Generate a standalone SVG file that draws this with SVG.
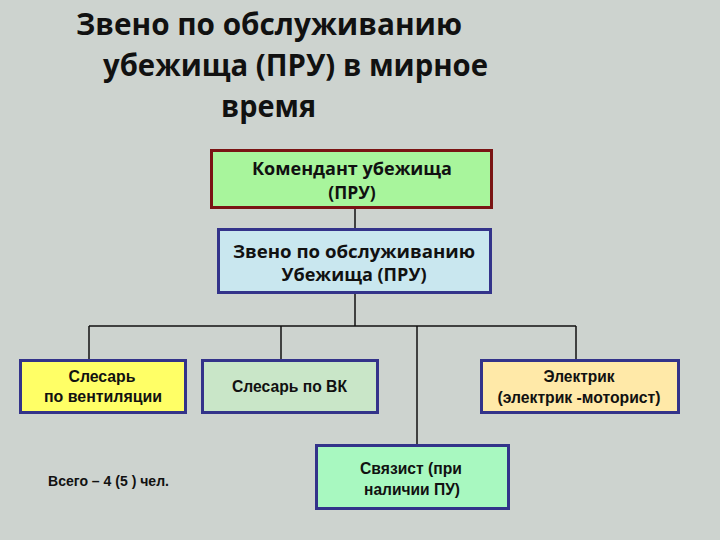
<svg xmlns="http://www.w3.org/2000/svg" width="720" height="540" viewBox="0 0 720 540">
<style>
.t{font-family:"Open Sans","DejaVu Sans",sans-serif;font-weight:bold;fill:#111}
.n{font-family:"Liberation Sans",Arial,sans-serif;font-weight:bold;fill:#111;font-size:16px;text-anchor:middle}
.h{font-family:"Open Sans","DejaVu Sans",sans-serif;font-weight:bold;fill:#111;font-size:17.5px;text-anchor:middle}
.box{stroke:#33338a;stroke-width:3}
.c{stroke:#111;stroke-width:1.5;fill:none}
</style>
<rect width="720" height="540" fill="#cdd3cf"/>
<g id="title" class="t" font-size="29.5">
<text x="76" y="35" textLength="386" lengthAdjust="spacingAndGlyphs">Звено по обслуживанию</text>
<text x="103" y="76" textLength="385" lengthAdjust="spacingAndGlyphs">убежища (ПРУ) в мирное</text>
<text x="221" y="117" textLength="95" lengthAdjust="spacingAndGlyphs">время</text>
</g>
<g id="connectors" class="c">
<line x1="355" y1="208" x2="355" y2="229"/>
<line x1="355" y1="292" x2="355" y2="326"/>
<line x1="89" y1="326" x2="576" y2="326"/>
<line x1="89" y1="326" x2="89" y2="360"/>
<line x1="281" y1="326" x2="281" y2="360"/>
<line x1="417" y1="326" x2="417" y2="445"/>
<line x1="576" y1="326" x2="576" y2="360"/>
</g>
<g id="commandant">
<rect x="211.5" y="150.5" width="280" height="57" fill="#a8f59c" stroke="#7a1414" stroke-width="3"/>
<text class="h" x="352" y="175" textLength="200" lengthAdjust="spacingAndGlyphs">Комендант убежища</text>
<text class="h" x="352" y="199">(ПРУ)</text>
</g>
<g id="zveno">
<rect class="box" x="218.5" y="229.5" width="272" height="63" fill="#c9e7ef"/>
<text class="h" x="354" y="258" textLength="242" lengthAdjust="spacingAndGlyphs">Звено по обслуживанию</text>
<text class="h" x="354" y="281" textLength="145" lengthAdjust="spacingAndGlyphs">Убежища (ПРУ)</text>
</g>
<g id="slesar-vent">
<rect class="box" x="20.5" y="360.5" width="165" height="52" fill="#ffff66"/>
<text class="n" x="102" y="382" textLength="67" lengthAdjust="spacingAndGlyphs">Слесарь</text>
<text class="n" x="103" y="402" textLength="118" lengthAdjust="spacingAndGlyphs">по вентиляции</text>
</g>
<g id="slesar-vk">
<rect class="box" x="202.5" y="360.5" width="175" height="52" fill="#c9e6c8"/>
<text class="n" x="289.5" y="392" textLength="115" lengthAdjust="spacingAndGlyphs">Слесарь по ВК</text>
</g>
<g id="elektrik">
<rect class="box" x="481.5" y="360.5" width="197" height="52" fill="#ffe9a8"/>
<text class="n" x="579" y="382" textLength="71" lengthAdjust="spacingAndGlyphs">Электрик</text>
<text class="n" x="579" y="403" textLength="163" lengthAdjust="spacingAndGlyphs">(электрик -моторист)</text>
</g>
<g id="svyazist">
<rect class="box" x="316.5" y="445.5" width="192" height="63" fill="#a8f8c0"/>
<text class="n" x="411" y="474" textLength="102" lengthAdjust="spacingAndGlyphs">Связист (при</text>
<text class="n" x="412" y="495" textLength="96" lengthAdjust="spacingAndGlyphs">наличии ПУ)</text>
</g>
<text id="total" class="n" x="48" y="486" style="text-anchor:start;font-size:15.5px" textLength="121" lengthAdjust="spacingAndGlyphs">Всего – 4 (5 ) чел.</text>
</svg>
